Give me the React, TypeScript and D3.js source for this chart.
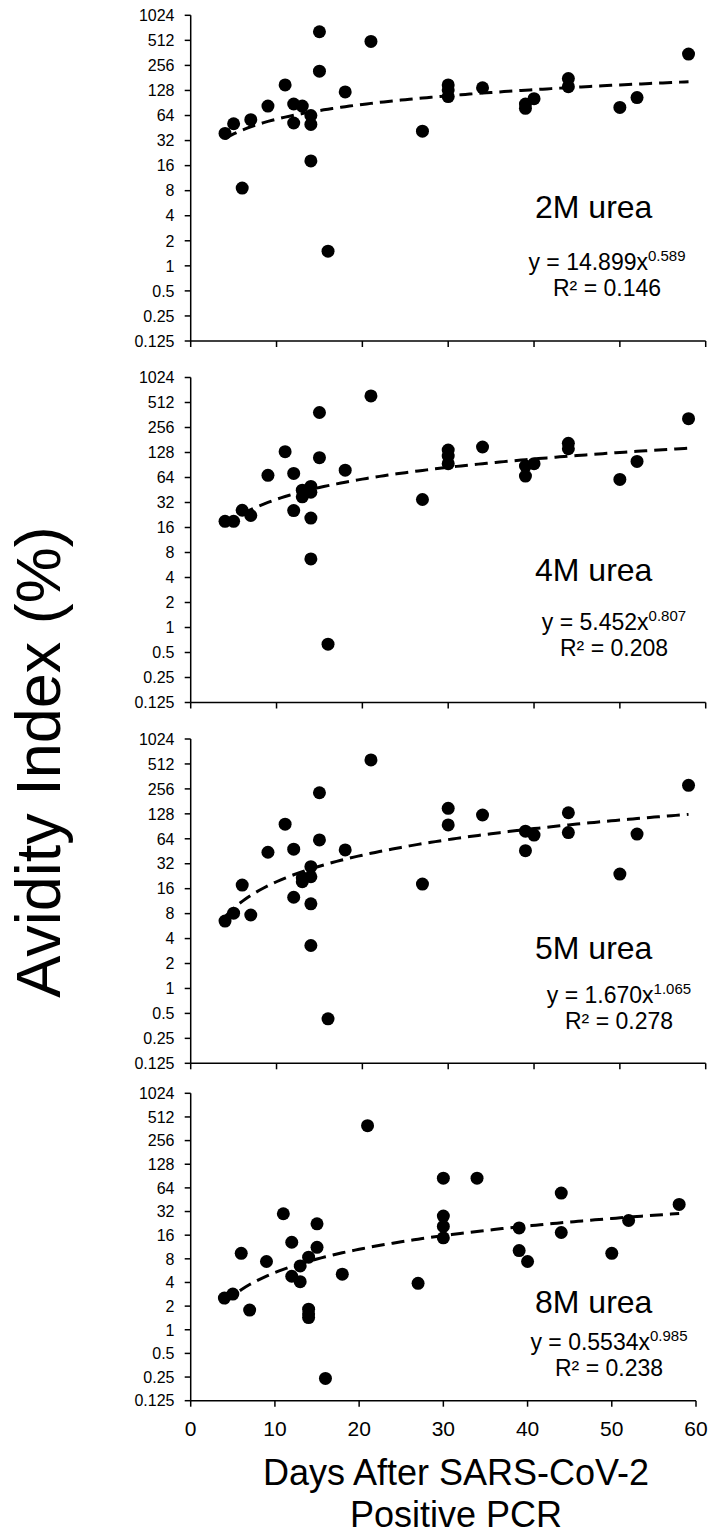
import * as d3 from "d3";

const W = 710;
const H = 1534;

// ---- data ----
const panelNames = ["2M urea", "4M urea", "5M urea", "8M urea"];

const days2M = [4, 5, 6, 7, 9, 11, 12, 12, 13, 14, 14, 14, 15, 15, 16, 18, 21, 27, 30, 30, 30, 34, 39, 39, 40, 44, 44, 50, 52, 58];
const avid2M = [39, 51, 8.6, 57, 83, 149, 88, 52, 83, 64, 50, 18.2, 650, 218, 1.5, 123, 497, 41.5, 149, 130, 108, 138, 88, 78, 102, 178, 142, 80, 105, 350];

const days4M = [4, 5, 6, 7, 9, 11, 12, 12, 13, 13, 14, 14, 14, 14, 15, 15, 16, 18, 21, 27, 30, 30, 30, 34, 39, 39, 40, 44, 44, 50, 52, 58];
const avid4M = [19, 19, 25.8, 22.3, 68, 131, 71.6, 25.6, 45, 37.5, 50, 42.5, 20.8, 6.7, 388, 111, 0.63, 78.5, 615, 34.8, 137, 116, 94, 149, 88, 66.5, 94, 165, 142, 60.6, 100, 327];

const days5M = [4, 5, 6, 7, 9, 11, 12, 12, 13, 13, 14, 14, 14, 14, 15, 15, 16, 18, 21, 27, 30, 30, 34, 39, 39, 40, 44, 44, 50, 52, 58];
const avid5M = [6.5, 8.1, 17.7, 7.7, 44, 96, 48, 12.6, 21.7, 19.4, 29.5, 22.3, 10.5, 3.3, 230, 62, 0.43, 47, 572, 18.2, 149, 94, 124, 79, 46, 71, 132, 76, 24, 73, 283];

const days8M = [4, 5, 6, 7, 9, 11, 12, 12, 13, 13, 14, 14, 14, 14, 15, 15, 16, 18, 21, 27, 30, 30, 30, 30, 34, 39, 39, 40, 44, 44, 50, 52, 58];
const avid8M = [2.53, 2.85, 9.4, 1.78, 7.4, 30, 13, 4.8, 6.5, 4.1, 8.4, 1.83, 1.6, 1.43, 22.3, 11.2, 0.24, 5.1, 396, 3.9, 85, 28, 20.7, 14.8, 85, 19.8, 10.2, 7.4, 55, 17.3, 9.4, 24.6, 39.4];

// power trendlines y = a * x^b
const fitA = [14.899, 5.452, 1.670, 0.5534];
const fitB = [0.589, 0.807, 1.065, 0.985];
const fitAText = ["14.899", "5.452", "1.670", "0.5534"];
const fitBText = ["0.589", "0.807", "1.065", "0.985"];
const r2Text = ["0.146", "0.208", "0.278", "0.238"];
const fitRange = [4, 58];

const yTicks = [1024, 512, 256, 128, 64, 32, 16, 8, 4, 2, 1, 0.5, 0.25, 0.125];
const xTicks = [0, 10, 20, 30, 40, 50, 60];

const allDays = [days2M, days4M, days5M, days8M];
const allAvid = [avid2M, avid4M, avid5M, avid8M];

// ---- layout ----
const left = 190.7;
const boxes = [
  { top: 15.3, bottom: 341, right: 705.7, labelY: 218, eqY: 270, eqX: 607 },
  { top: 377.5, bottom: 702.5, right: 705.7, labelY: 581, eqY: 630, eqX: 614 },
  { top: 739, bottom: 1063.3, right: 705.7, labelY: 959, eqY: 1003, eqX: 619 },
  { top: 1093.3, bottom: 1400.7, right: 696, labelY: 1313, eqY: 1350, eqX: 609 },
];

const font = "'Liberation Sans', Arial, sans-serif";

function Panel({ i }: { i: number }) {
  const b = boxes[i];
  const x = d3.scaleLinear().domain([0, 60]).range([left, b.right]);
  const y = d3.scaleLog().base(2).domain([0.125, 1024]).range([b.bottom, b.top]);
  const line = d3
    .line<number>()
    .x((d) => x(d))
    .y((d) => y(fitA[i] * Math.pow(d, fitB[i])));
  const xs = d3.range(fitRange[0], fitRange[1] + 0.01, 0.5);
  const last = i === 3;

  return (
    <g>
      {/* y axis */}
      <line x1={left} x2={left} y1={b.top} y2={b.bottom} stroke="#000" strokeWidth={1.5} />
      {yTicks.map((t) => (
        <g key={t}>
          <line x1={left - 6} x2={left} y1={y(t)} y2={y(t)} stroke="#000" strokeWidth={1.5} />
          <text x={174.5} y={y(t)} dy="0.36em" textAnchor="end" fontSize={16} fontFamily={font} fill="#000">
            {t}
          </text>
        </g>
      ))}
      {/* x axis */}
      <line x1={left} x2={b.right} y1={b.bottom} y2={b.bottom} stroke="#000" strokeWidth={1.5} />
      {xTicks.map((t) => (
        <g key={t}>
          <line x1={x(t)} x2={x(t)} y1={b.bottom} y2={b.bottom + 6} stroke="#000" strokeWidth={1.5} />
          {last && (
            <text x={x(t)} y={1436} textAnchor="middle" fontSize={21} fontFamily={font} fill="#000">
              {t}
            </text>
          )}
        </g>
      ))}
      {/* points */}
      {allDays[i].map((d, k) => (
        <circle key={k} cx={x(d)} cy={y(allAvid[i][k])} r={6.5} fill="#000" />
      ))}
      {/* trendline */}
      <path d={line(xs) || ""} fill="none" stroke="#000" strokeWidth={3} strokeDasharray="13,7" />
      {/* labels */}
      <text x={535} y={b.labelY} fontSize={32} fontFamily={font} fill="#000">
        {panelNames[i]}
      </text>
      <text x={b.eqX} y={b.eqY} textAnchor="middle" fontSize={23} fontFamily={font} fill="#000">
        {`y = ${fitAText[i]}x`}
        <tspan fontSize={15} dy={-9}>
          {fitBText[i]}
        </tspan>
      </text>
      <text x={b.eqX} y={b.eqY + 26} textAnchor="middle" fontSize={23} fontFamily={font} fill="#000">
        {`R² = ${r2Text[i]}`}
      </text>
    </g>
  );
}

export default function App() {
  return (
    <svg
      width={W}
      height={H}
      viewBox={`0 0 ${W} ${H}`}
      style={{ position: "absolute", left: 0, top: 0, background: "#fff" }}
    >
      <rect width={W} height={H} fill="#fff" />
      {[0, 1, 2, 3].map((i) => (
        <Panel key={i} i={i} />
      ))}
      <text
        transform="translate(60,762) rotate(-90)"
        textAnchor="middle"
        fontSize={63}
        fontFamily={font}
        fill="#000"
      >
        Avidity Index (%)
      </text>
      <text x={456} y={1485} textAnchor="middle" fontSize={36} fontFamily={font} fill="#000">
        Days After SARS-CoV-2
      </text>
      <text x={456} y={1527} textAnchor="middle" fontSize={36} fontFamily={font} fill="#000">
        Positive PCR
      </text>
    </svg>
  );
}
